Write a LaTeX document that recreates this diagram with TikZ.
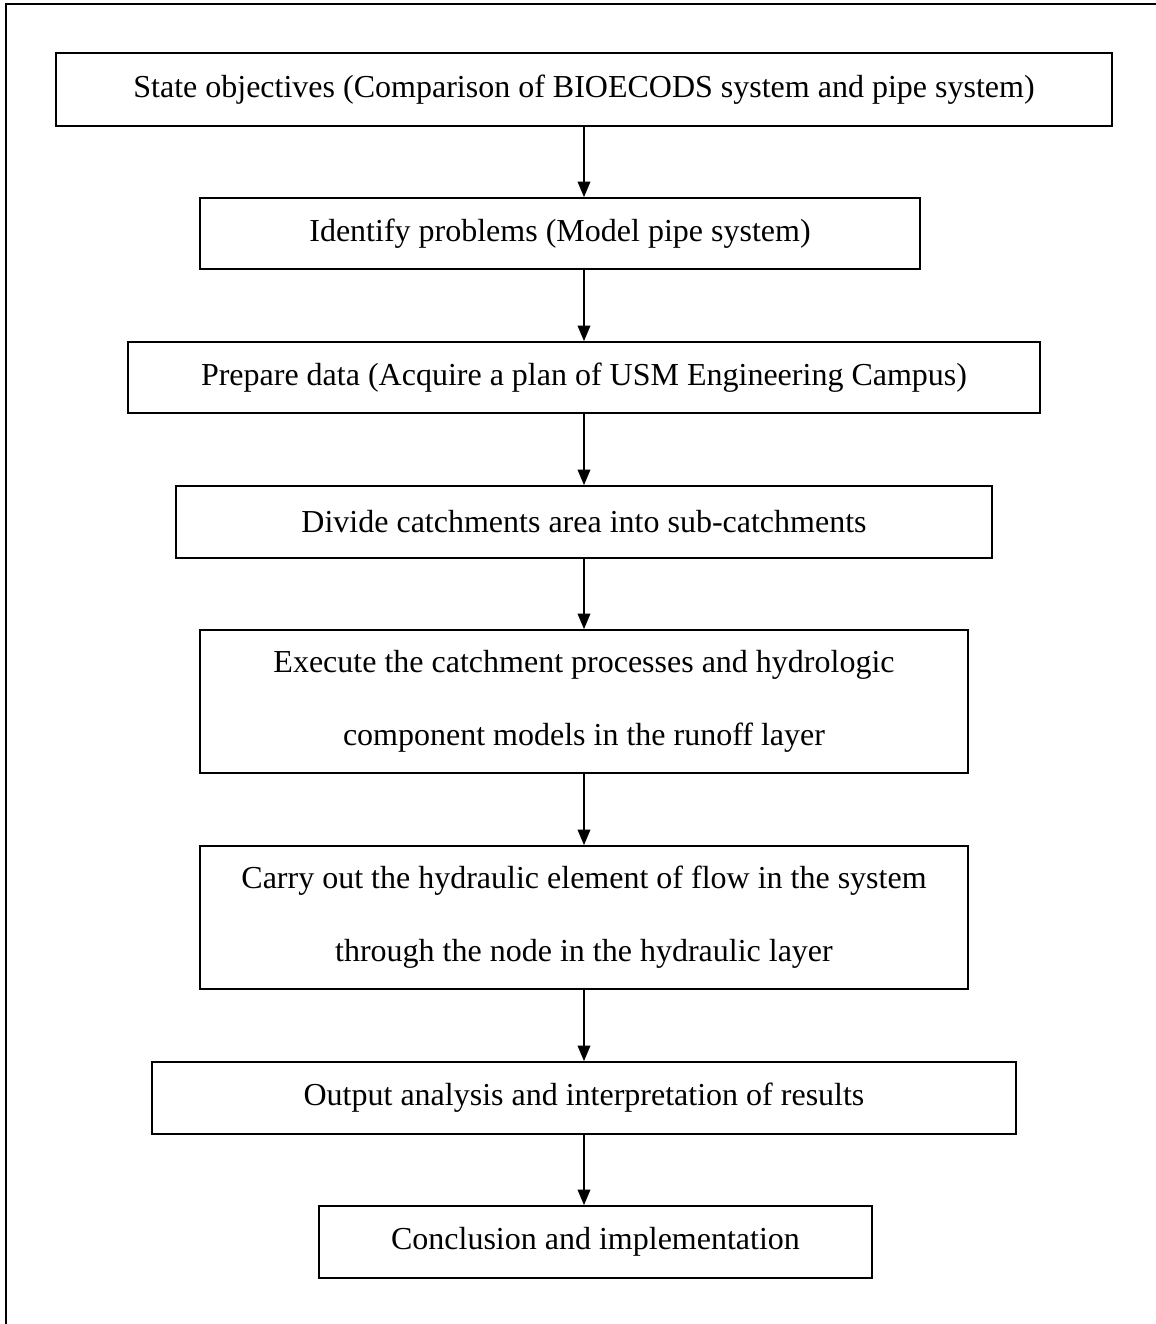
\documentclass[tikz,border=0pt]{standalone}
\usepackage{fontspec}
\setmainfont{Liberation Serif}
\usetikzlibrary{arrows}

\begin{document}
\begin{tikzpicture}[x=0.5pt,y=-0.5pt,-,>=triangle 45,
  step node/.style={rectangle,draw,line width=1pt,inner sep=0pt,align=center,
    font=\fontsize{16}{36.5}\selectfont},
  flow line/.style={->,line width=0.75pt}]
  \useasboundingbox (0,0) rectangle (1156,1324);
  \clip (0,0) rectangle (1156,1324);
  \draw[line width=1pt] (6,1340) -- (6,4) -- (1170,4);

  \node[step node,minimum width=528pt,minimum height=36.5pt] (1) at (584,89.5)
    {State objectives (Comparison of BIOECODS system and pipe system)};
  \node[step node,minimum width=360pt,minimum height=35.5pt] (2) at (560,233.5)
    {Identify problems (Model pipe system)};
  \node[step node,minimum width=456pt,minimum height=35.5pt] (3) at (584,377.5)
    {Prepare data (Acquire a plan of USM Engineering Campus)};
  \node[step node,minimum width=408pt,minimum height=36pt] (4) at (584,522)
    {Divide catchments area into sub-catchments};
  \node[step node,minimum width=384pt,minimum height=71.5pt] (5) at (584,701.5)
    {Execute the catchment processes and hydrologic\\component models in the runoff layer};
  \node[step node,minimum width=384pt,minimum height=71.5pt] (6) at (584,917.5)
    {Carry out the hydraulic element of flow in the system\\through the node in the hydraulic layer};
  \node[step node,minimum width=432pt,minimum height=36pt] (7) at (584,1098)
    {Output analysis and interpretation of results};
  \node[step node,minimum width=276.5pt,minimum height=36pt] (8) at (595.5,1242)
    {Conclusion and implementation};

  \path[flow line]
    (1.south) edge (1.south |- 2.north)
    (2.south -| 3.north) edge (3.north)
    (3.south) edge (4.north)
    (4.south) edge (5.north)
    (5.south) edge (6.north)
    (6.south) edge (7.north)
    (7.south) edge (7.south |- 8.north);
\end{tikzpicture}
\end{document}
